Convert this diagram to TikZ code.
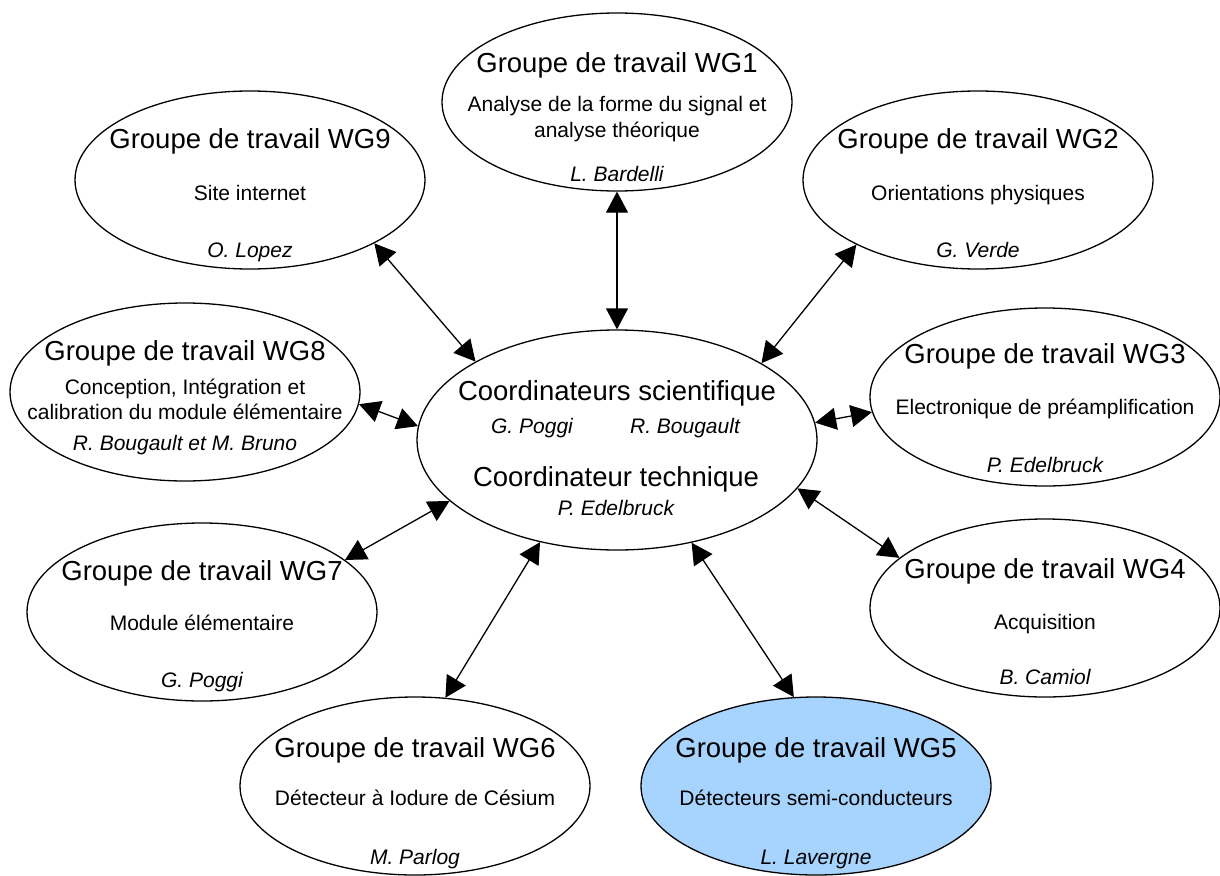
\documentclass[tikz,border=0pt]{standalone}
\usepackage{fontspec}
\setmainfont{Liberation Sans}
\usetikzlibrary{arrows.meta,shapes.geometric}
\definecolor{wgblue}{RGB}{166,212,254}
\begin{document}
\begin{tikzpicture}[x=1pt,y=-1pt,
  wg/.style={ellipse,draw,line width=1.3pt,minimum width=350pt,minimum height=178pt,inner sep=0pt},
  ttl/.style={anchor=base,font=\fontsize{27.5}{33}\selectfont,inner sep=0pt},
  sub/.style={anchor=base,font=\fontsize{21}{25}\selectfont,inner sep=0pt},
  who/.style={anchor=base,font=\fontsize{21}{25}\selectfont\itshape,inner sep=0pt},
  link/.style={line width=1.3pt,{Triangle[length=21pt,width=22pt]}-{Triangle[length=21pt,width=22pt]}}
]
\useasboundingbox (0,0) rectangle (1220,875);

% ellipses
\node[wg] (wg1) at (617,102) {};
\node[wg] (wg9) at (250,180) {};
\node[wg] (wg2) at (978,180) {};
\node[wg] (wg8) at (185,392) {};
\node[wg] (wg3) at (1045,397) {};
\node[wg] (wg7) at (202,612) {};
\node[wg] (wg4) at (1045,608) {};
\node[wg] (wg6) at (415,786) {};
\node[wg,fill=wgblue] (wg5) at (816,786) {};
\node[wg,minimum width=400pt,minimum height=220pt] (c) at (617,440) {};

% WG1
\node[ttl] (wg1t) at (617,73) {Groupe de travail WG1};
\node[sub] (wg1s) at (617,111) {Analyse de la forme du signal et};
\node[sub] (wg1u) at (617,137) {analyse théorique};
\node[who] (wg1n) at (617,181) {L. Bardelli};
% WG9
\node[ttl] (wg9t) at (250,148) {Groupe de travail WG9};
\node[sub] (wg9s) at (250,200.5) {Site internet};
\node[who] (wg9n) at (250,257) {O. Lopez};
% WG2
\node[ttl] (wg2t) at (978,148) {Groupe de travail WG2};
\node[sub] (wg2s) at (978,200.5) {Orientations physiques};
\node[who] (wg2n) at (978,257) {G. Verde};
% WG8
\node[ttl] (wg8t) at (185,360) {Groupe de travail WG8};
\node[sub] (wg8s) at (185,394.5) {Conception, Intégration et};
\node[sub] (wg8u) at (185,419) {calibration du module élémentaire};
\node[who] (wg8n) at (185,450.5) {R. Bougault et M. Bruno};
% WG3
\node[ttl] (wg3t) at (1045,363) {Groupe de travail WG3};
\node[sub] (wg3s) at (1045,414.5) {Electronique de préamplification};
\node[who] (wg3n) at (1045,472.5) {P. Edelbruck};
% WG7
\node[ttl] (wg7t) at (202,580) {Groupe de travail WG7};
\node[sub] (wg7s) at (202,630) {Module élémentaire};
\node[who] (wg7n) at (202,687) {G. Poggi};
% WG4
\node[ttl] (wg4t) at (1045,578) {Groupe de travail WG4};
\node[sub] (wg4s) at (1045,629) {Acquisition};
\node[who] (wg4n) at (1045,684.5) {B. Camiol};
% WG6
\node[ttl] (wg6t) at (415,757) {Groupe de travail WG6};
\node[sub] (wg6s) at (415,805.5) {Détecteur à Iodure de Césium};
\node[who] (wg6n) at (415,864.5) {M. Parlog};
% WG5
\node[ttl] (wg5t) at (816,757) {Groupe de travail WG5};
\node[sub] (wg5s) at (816,805.5) {Détecteurs semi-conducteurs};
\node[who] (wg5n) at (816,864.5) {L. Lavergne};
% centre
\node[ttl] (ct) at (617,400) {Coordinateurs scientifique};
\node[who] (cn1) at (532,433.5) {G. Poggi};
\node[who] (cn2) at (685,433.5) {R. Bougault};
\node[ttl] (ct2) at (616,486) {Coordinateur technique};
\node[who] (cn3) at (616,515.5) {P. Edelbruck};

% connectors
\draw[link] (wg1.-90) -- (c.90);
\draw[link] (wg9.-27.5) -- (c.151);
\draw[link] (wg2.-152) -- (c.28.3);
\draw[link] (wg8.-4) -- (c.176);
\draw[link] (wg3.185) -- (c.5);
\draw[link] (wg7.20) -- (c.200);
\draw[link] (wg4.161) -- (c.-15);
\draw[link] (wg6.71) -- (c.233);
\draw[link] (wg5.104) -- (c.-54);
\end{tikzpicture}
\end{document}
